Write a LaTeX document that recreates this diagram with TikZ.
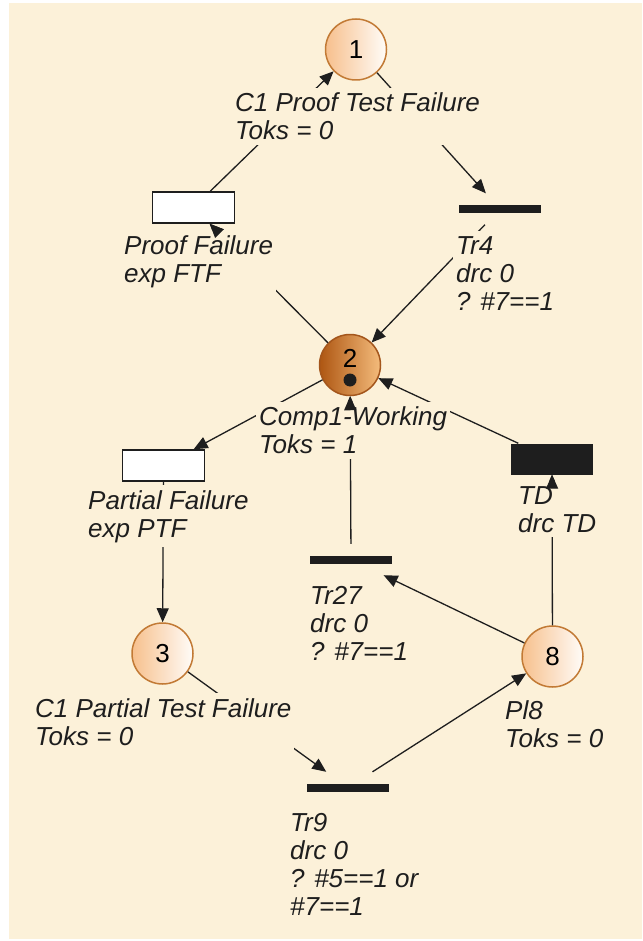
\documentclass[tikz,border=0pt]{standalone}
\usepackage{fontspec}
\setmainfont{Liberation Sans}
\usetikzlibrary{arrows.meta}
\definecolor{paper}{HTML}{FCF1D9}
\definecolor{ink}{HTML}{1E1E1E}
\definecolor{rim}{HTML}{C27A35}
\definecolor{placeL}{HTML}{F7C08D}
\definecolor{placeR}{HTML}{FFFCF8}
\definecolor{markL}{HTML}{AE5612}
\definecolor{markR}{HTML}{F4BC7C}
\definecolor{markrim}{HTML}{A4561C}
\newcommand{\netfont}{\fontsize{26}{28}\selectfont}
\tikzset{
  place/.style={circle, draw=rim, line width=1.5pt, minimum size=61pt, inner sep=0pt,
                left color=placeL, right color=placeR, font=\netfont},
  marked/.style={place, draw=markrim, left color=markL, right color=markR},
  trans/.style={rectangle, minimum width=82pt, minimum height=31pt, inner sep=0pt},
  expo/.style={trans, draw=ink, line width=1.5pt, fill=white},
  imm/.style={trans, path picture={\fill[ink] ([yshift=-4pt]path picture bounding box.west)
                rectangle ([yshift=4pt]path picture bounding box.east);}},
  det/.style={trans, fill=ink},
  % labels hang on the baseline of their last line
  lbl/.style={fill=paper, inner xsep=3pt, inner ysep=5pt, align=left, anchor=base west,
              font=\netfont\itshape, text=ink},
  arc/.style={-{Triangle[length=14pt, width=12pt]}, line width=1.3pt, color=ink},
}

\begin{document}
\begin{tikzpicture}[x=1pt, y=-1pt]
  \useasboundingbox (0,0) rectangle (642,941);
  \fill[paper] (9,3) rectangle (642,939);
  % places
  \node[place] (p1) at (356,49.5) {1};
  \node[marked] (p2) at (350,365) {};
  \node[place] (p3) at (162.5,653.5) {3};
  \node[place] (p8) at (552.5,656.5) {8};
  \node[font=\netfont, inner sep=0pt] (n2) at ([yshift=7pt]p2.center) {2};
  \fill[ink] ([yshift=-15pt]p2.center) circle (6.5pt);
  % transitions
  \node[expo] (pf) at (193.5,207.5) {};
  \node[imm] (tr4) at (500,209) {};
  \node[expo] (ptf) at (163.5,465.5) {};
  \node[det] (td) at (552,459) {};
  \node[imm] (tr27) at (351,559.5) {};
  \node[imm] (tr9) at (348,787.5) {};
  % arcs
  \draw[arc] (p2) -- (pf); \draw[arc] (pf) -- (p1);
  \draw[arc] (p1) -- (tr4); \draw[arc] (tr4) -- (p2);
  \draw[arc] (p2) -- (ptf); \draw[arc] (ptf) -- (p3);
  \draw[arc] (p3) -- (tr9); \draw[arc] (tr9) -- (p8);
  \draw[arc] (tr27) -- (p2);
  \draw[arc] (p8) -- (td); \draw[arc] (td) -- (p2);
  % labels
  \node[lbl] (l1) at (232,140) {C1 Proof Test Failure\\Toks = 0};
  \node[lbl] (lpf) at (121,282) {Proof Failure\\exp FTF};
  \node[lbl] (ltr4) at (453,310) {Tr4\\drc 0\\? \#7==1};
  \node[lbl] (l2) at (256,453.5) {Comp1-Working\\Toks = 1};
  \node[lbl] (lptf) at (85,537) {Partial Failure\\exp PTF};
  \node[lbl] (ltd) at (515,532) {TD\\drc TD};
  \node[lbl] (ltr27) at (307,660) {Tr27\\drc 0\\? \#7==1};
  \node[lbl] (l3) at (32,745) {C1 Partial Test Failure\\Toks = 0};
  \node[lbl] (l8) at (502,747) {Pl8\\Toks = 0};
  \node[lbl] (ltr9) at (287,915) {Tr9\\drc 0\\? \#5==1 or\\\#7==1};
  % this one runs clear of any text, so it goes over the boxes
  \draw[arc] (p8) -- (tr27);
  % tips stay above the label boxes
  \path[arc, tips] (p2) -- (pf);
  \path[arc, tips] (p8) -- (td);
  \path[arc, tips] (tr27) -- (p2);
\end{tikzpicture}
\end{document}
